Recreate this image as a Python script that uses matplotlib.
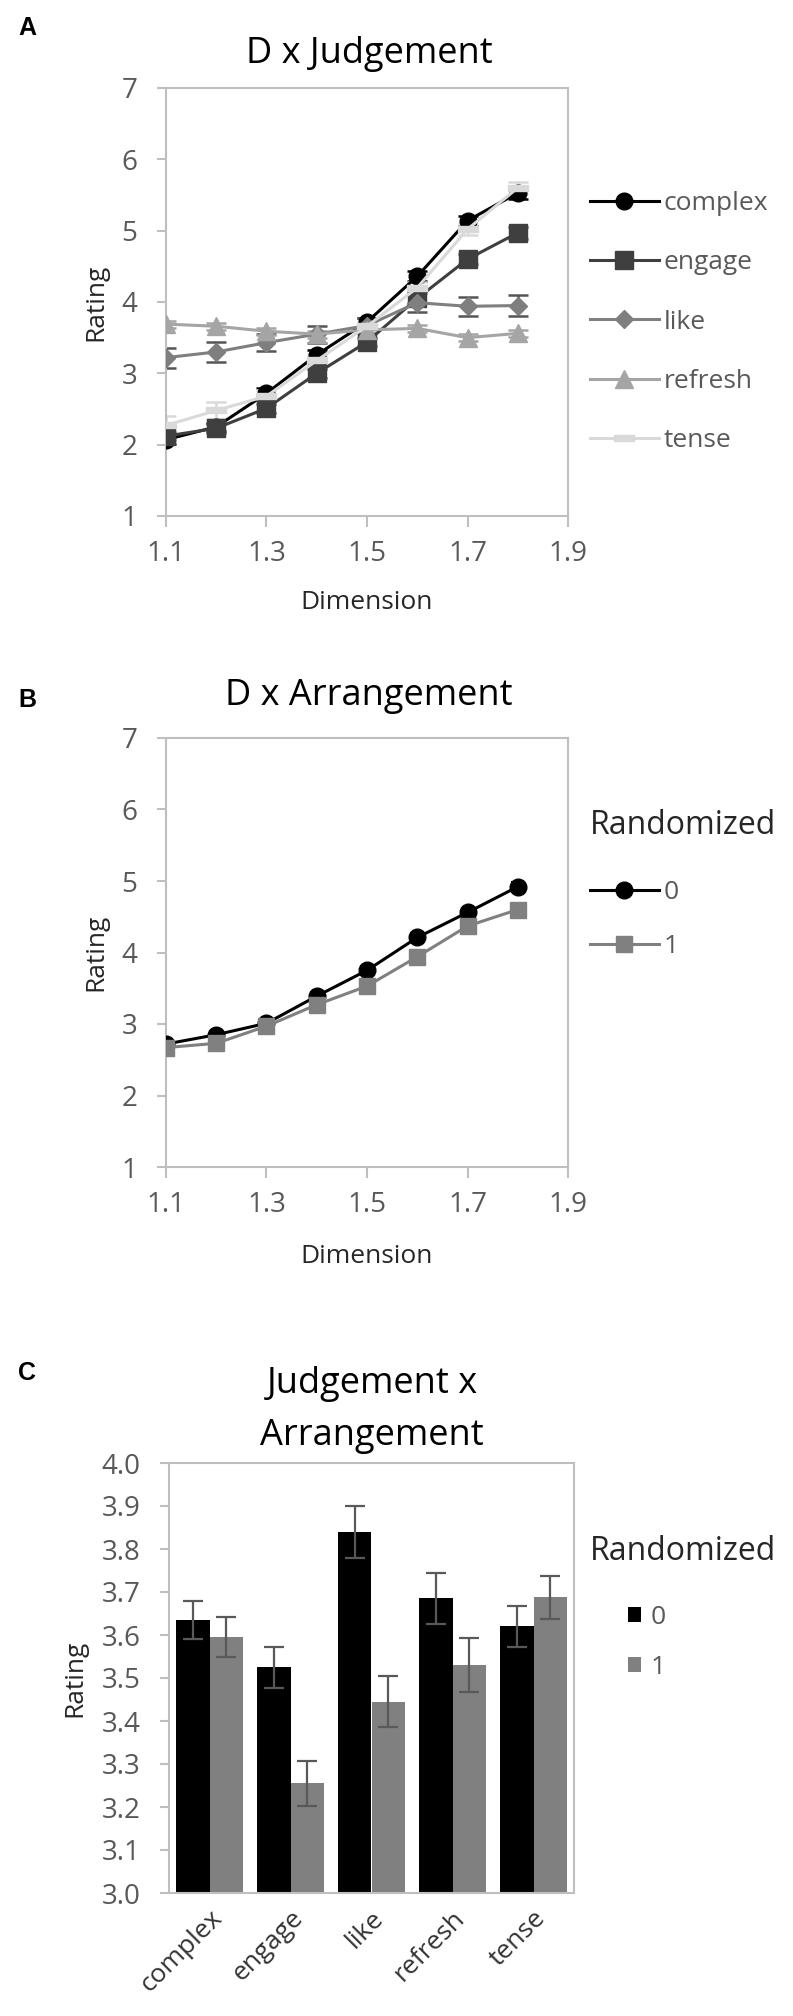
import matplotlib
matplotlib.use("Agg")
import matplotlib.pyplot as plt
from matplotlib.lines import Line2D
from matplotlib.patches import Patch
import numpy as np

plt.rcParams['font.family'] = ['Open Sans', 'DejaVu Sans']

# ---------------- data ----------------
dimension = [1.1, 1.2, 1.3, 1.4, 1.5, 1.6, 1.7, 1.8]

judgements = ["complex", "engage", "like", "refresh", "tense"]
complex_vals = [2.07, 2.25, 2.72, 3.26, 3.72, 4.36, 5.14, 5.53]
engage_vals = [2.12, 2.23, 2.51, 3.00, 3.44, 4.05, 4.60, 4.97]
like_vals = [3.22, 3.30, 3.43, 3.55, 3.67, 3.99, 3.94, 3.95]
refresh_vals = [3.69, 3.66, 3.59, 3.55, 3.61, 3.63, 3.50, 3.56]
tense_vals = [2.27, 2.48, 2.68, 3.18, 3.66, 4.20, 5.02, 5.60]

complex_err = [0.06, 0.06, 0.07, 0.07, 0.06, 0.07, 0.07, 0.08]
engage_err = [0.06, 0.06, 0.06, 0.06, 0.06, 0.07, 0.07, 0.08]
like_err = [0.14, 0.14, 0.12, 0.12, 0.10, 0.13, 0.13, 0.15]
refresh_err = [0.05, 0.05, 0.05, 0.05, 0.05, 0.05, 0.05, 0.05]
tense_err = [0.13, 0.12, 0.08, 0.08, 0.07, 0.08, 0.08, 0.08]

randomized_levels = ["0", "1"]
arr0_vals = [2.72, 2.85, 3.01, 3.39, 3.75, 4.21, 4.56, 4.92]
arr1_vals = [2.67, 2.73, 2.97, 3.27, 3.53, 3.94, 4.37, 4.60]
arr0_err = [0.05, 0.05, 0.05, 0.05, 0.06, 0.06, 0.06, 0.07]
arr1_err = [0.05, 0.05, 0.05, 0.05, 0.06, 0.06, 0.06, 0.07]

bar0_vals = [3.635, 3.525, 3.840, 3.685, 3.620]
bar1_vals = [3.595, 3.255, 3.445, 3.530, 3.688]
bar0_err = [0.045, 0.048, 0.060, 0.060, 0.048]
bar1_err = [0.046, 0.053, 0.060, 0.063, 0.050]

dim_ticks = [1.1, 1.3, 1.5, 1.7, 1.9]
rating_ticks = [1, 2, 3, 4, 5, 6, 7]
bar_ticks = [3.0, 3.1, 3.2, 3.3, 3.4, 3.5, 3.6, 3.7, 3.8, 3.9, 4.0]

# ---------------- layout ----------------
W, H = 793, 2016
fig = plt.figure(figsize=(W / 100, H / 100), dpi=100)

def fx(px):
    return px / W

def fy(py):
    return 1 - py / H

def make_axes(left, top, right, bottom):
    return fig.add_axes([fx(left), fy(bottom), (right - left) / W, (bottom - top) / H])

SPINE = '#bfbfbf'
TICKC = '#595959'
LABC = '#262626'
TICKFS = 20
LABFS = 19
LEGFS = 19
TITLEFS = 26
LEGTITLEFS = 23
LETTERFS = 18

def style_axes(ax):
    for s in ax.spines.values():
        s.set_color(SPINE)
        s.set_linewidth(1.5)
    ax.tick_params(axis='both', colors=SPINE, labelcolor=TICKC, labelsize=TICKFS,
                   width=1.5)
    ax.tick_params(axis='y', length=6.5, pad=14)
    ax.tick_params(axis='x', length=8, pad=9)

# ---------- Panel A ----------
axA = make_axes(166, 88, 568, 516)
style_axes(axA)
styles = [
    (complex_vals, complex_err, 'o', '#000000', '#000000', 12),
    (engage_vals, engage_err, 's', '#3f3f3f', '#3f3f3f', 12.5),
    (like_vals, like_err, 'D', '#7f7f7f', '#555555', 9.5),
    (refresh_vals, refresh_err, '^', '#a5a5a5', '#a5a5a5', 13),
    (tense_vals, tense_err, [(-1, -0.35), (1, -0.35), (1, 0.35), (-1, 0.35), (-1, -0.35)],
     '#d9d9d9', '#d9d9d9', 14),
]
handlesA = []
for name, (vals, err, mk, col, ecol, ms) in zip(judgements, styles):
    axA.errorbar(dimension, vals, yerr=err, fmt='none', ecolor=ecol, elinewidth=1.8,
                 capsize=7, capthick=1.8, zorder=2)
    axA.plot(dimension, vals, color=col, linewidth=2.2, marker=mk, markersize=ms,
             markerfacecolor=col, markeredgecolor=col, zorder=3)
    handlesA.append(Line2D([0], [0], color=col, linewidth=2.2, marker=mk, markersize=ms,
                           markerfacecolor=col, markeredgecolor=col))
axA.set_xlim(1.1, 1.9)
axA.set_ylim(1, 7)
axA.set_xticks(dim_ticks)
axA.set_xticklabels([f"{t:.1f}" for t in dim_ticks])
axA.set_yticks(rating_ticks)
axA.set_ylabel("Rating", fontsize=LABFS, color=LABC)
axA.set_xlabel("Dimension", fontsize=LABFS, color=LABC, labelpad=16)
axA.yaxis.set_label_coords((108 - 166) / (568 - 166), 0.5)

legA = axA.legend(handlesA, judgements, loc='upper left', frameon=False,
                  bbox_to_anchor=(fx(590), fy(191)), bbox_transform=fig.transFigure,
                  fontsize=LEGFS, handlelength=2.6, handletextpad=0.2,
                  labelspacing=1.3, borderpad=0, borderaxespad=0)
for t in legA.get_texts():
    t.set_color(TICKC)

fig.text(fx(369), fy(54), "D x Judgement", fontsize=TITLEFS, ha='center', va='center')
fig.text(fx(18), fy(28), "A", fontsize=LETTERFS, fontweight='bold', ha='left', va='center',
         family=['Liberation Sans', 'DejaVu Sans'])

# ---------- Panel B ----------
axB = make_axes(166, 738, 568, 1167)
style_axes(axB)
handlesB = []
for vals, err, mk, col in [(arr0_vals, arr0_err, 'o', '#000000'),
                            (arr1_vals, arr1_err, 's', '#808080')]:
    axB.errorbar(dimension, vals, yerr=err, fmt='none', ecolor=col, elinewidth=1.5,
                 capsize=5, capthick=1.5, zorder=2)
    axB.plot(dimension, vals, color=col, linewidth=2.2, marker=mk, markersize=12,
             markerfacecolor=col, markeredgecolor=col, zorder=3)
    handlesB.append(Line2D([0], [0], color=col, linewidth=2.2, marker=mk, markersize=12,
                           markerfacecolor=col, markeredgecolor=col))
axB.set_xlim(1.1, 1.9)
axB.set_ylim(1, 7)
axB.set_xticks(dim_ticks)
axB.set_xticklabels([f"{t:.1f}" for t in dim_ticks])
axB.set_yticks(rating_ticks)
axB.set_ylabel("Rating", fontsize=LABFS, color=LABC)
axB.set_xlabel("Dimension", fontsize=LABFS, color=LABC, labelpad=18)
axB.yaxis.set_label_coords((108 - 166) / (568 - 166), 0.5)

fig.text(fx(590), fy(825), "Randomized", fontsize=LEGTITLEFS, ha='left', va='center',
         color=LABC)
legB = axB.legend(handlesB, randomized_levels, loc='upper left', frameon=False,
                  bbox_to_anchor=(fx(590), fy(880)), bbox_transform=fig.transFigure,
                  fontsize=LEGFS, handlelength=2.6, handletextpad=0.2,
                  labelspacing=1.1, borderpad=0, borderaxespad=0)
for t in legB.get_texts():
    t.set_color(TICKC)

fig.text(fx(369), fy(696), "D x Arrangement", fontsize=TITLEFS, ha='center', va='center')
fig.text(fx(18), fy(700), "B", fontsize=LETTERFS, fontweight='bold', ha='left', va='center',
         family=['Liberation Sans', 'DejaVu Sans'])

# ---------- Panel C ----------
axC = make_axes(169, 1463, 574, 1893)
style_axes(axC)
x = np.arange(len(judgements))
bw = 0.41
axC.bar(x - bw / 2, bar0_vals, width=bw, color='#000000', zorder=2)
axC.bar(x + bw / 2, bar1_vals, width=bw, color='#808080', zorder=2)
axC.errorbar(x - bw / 2, bar0_vals, yerr=bar0_err, fmt='none', ecolor='#595959',
             elinewidth=1.6, capsize=7, capthick=1.6, zorder=3)
axC.errorbar(x + bw / 2, bar1_vals, yerr=bar1_err, fmt='none', ecolor='#595959',
             elinewidth=1.6, capsize=7, capthick=1.6, zorder=3)
axC.set_xlim(-0.5, len(judgements) - 0.5)
axC.set_ylim(3.0, 4.0)
axC.set_yticks(bar_ticks)
axC.set_yticklabels([f"{t:.1f}" for t in bar_ticks])
axC.set_xticks(x)
axC.set_xticklabels(judgements, rotation=45, ha='right', rotation_mode='anchor',
                    color='#333333', fontsize=LABFS)
axC.tick_params(axis='x', length=0, pad=9)
axC.set_ylabel("Rating", fontsize=LABFS, color=LABC)
axC.yaxis.set_label_coords((87 - 169) / (574 - 169), 0.5)

fig.text(fx(590), fy(1552), "Randomized", fontsize=LEGTITLEFS, ha='left', va='center',
         color=LABC)
handlesC = [Patch(facecolor='#000000'), Patch(facecolor='#808080')]
legC = axC.legend(handlesC, randomized_levels, loc='upper left', frameon=False,
                  bbox_to_anchor=(fx(628), fy(1605)), bbox_transform=fig.transFigure,
                  fontsize=LEGFS, handlelength=0.5, handleheight=0.5, handletextpad=0.35,
                  labelspacing=0.95, borderpad=0, borderaxespad=0)
for t in legC.get_texts():
    t.set_color(TICKC)

fig.text(fx(372), fy(1410), "Judgement x\nArrangement", fontsize=TITLEFS, ha='center',
         va='center', linespacing=1.6)
fig.text(fx(18), fy(1373), "C", fontsize=LETTERFS, fontweight='bold', ha='left', va='center',
         family=['Liberation Sans', 'DejaVu Sans'])

fig.savefig("out.png", dpi=100)
